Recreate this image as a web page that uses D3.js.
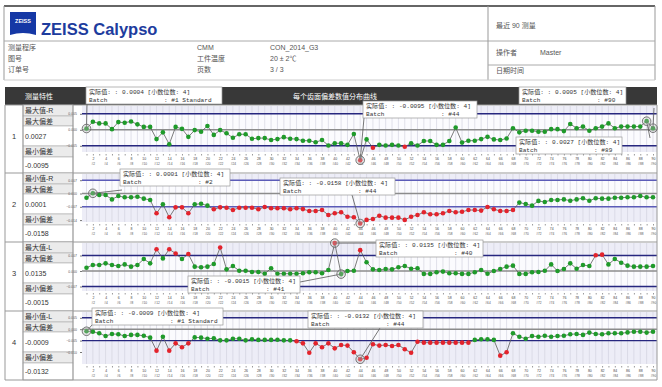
<!DOCTYPE html>
<html>
<head>
<meta charset="utf-8">
<script src="https://cdn.jsdelivr.net/npm/d3@7"></script>
<style>
  body { margin: 0; background: #fff; }
  text { font-family: "Liberation Sans", "Noto Sans CJK SC", sans-serif; }
  .mono { font-family: "Liberation Mono", "Noto Sans CJK SC", monospace; }
</style>
</head>
<body>
<div class="chart"></div>
<script>
// Chart size
const w = 662;
const h = 387;

// DATA //

// Batch index 1..90
const batches = d3.range(1, 91);

// Deviations per characteristic, in 0.001 mm
const devMaxR = [0.4, 2.5, 2.0, 2.0, 0.2, 2.4, 2.2, 2.6, 1.7, 0.9, 0.9, -2.9, -0.8, -4.5, 0.9, 0.3, -2.2, -0.1, -0.6, 1.2,
  -1.6, -0.1, -1.1, -2.5, -1.4, -1.4, -2.8, -2.6, -2.6, -3.2, -2.9, -2.3, -2.8, -2.9, -3.4, -3.4, -3.9, -3.2, -4.9, -4.2,
  -4.2, -4.7, -1.3, -9.5, -3.0, -5.6, -4.7, -4.9, -4.7, -4.9, -5.3, -4.2, -4.9, -3.5, -3.5, -4.7, -4.7, -3.5, 0.7, -4.0,
  -3.4, -3.4, -2.9, -2.2, -3.0, -3.2, -2.7, 0.5, -0.8, -0.3, -0.3, -0.6, -0.6, 0.2, 0.2, -0.4, 1.8, 0.5, 1.0, -0.3,
  0.5, 1.0, 2.0, 0.5, 1.0, 1.0, 1.0, 1.0, 2.7, 0.5];
const devMinR = [-2.2, 0.1, -0.8, -0.8, -3.1, -1.3, -2.0, -2.0, -1.7, -2.7, -3.4, -10.4, -5.7, -12.5, -7.3, -7.3, -10.4, -5.7, -5.4, -6.4,
  -8.3, -7.3, -7.5, -8.7, -7.5, -7.5, -7.5, -8.3, -7.1, -7.8, -7.8, -7.8, -8.3, -7.8, -8.2, -9.2, -9.2, -8.7, -11.3, -10.4,
  -9.9, -12.2, -12.5, -15.8, -13.9, -13.4, -11.7, -12.7, -12.7, -12.7, -13.9, -12.2, -11.3, -9.9, -10.9, -10.9, -10.4, -9.2, -9.9, -9.6,
  -8.7, -8.7, -9.0, -7.1, -8.3, -9.2, -9.2, -8.7, -4.8, -5.5, -6.4, -3.9, -4.5, -3.4, -3.4, -3.1, -3.8, -3.1, -2.5, -3.8,
  -2.5, -2.7, -2.7, -2.2, -2.2, -2.0, -2.0, -1.3, -2.0, -2.0];
const devMaxL = [1.6, 2.9, 2.9, 3.7, 2.9, 2.4, 3.2, 2.1, 2.9, 5.8, 3.7, 10.5, 6.1, 10.5, 8.5, 5.8, 8.2, 2.1, 1.8, 2.1,
  3.4, 11.4, 0.8, 2.4, 0.1, 0.1, -0.5, -0.5, -1.3, 1.3, -1.3, -1.3, -1.3, -1.3, -1.1, -0.6, -0.6, -1.1, 0.5, 13.5,
  -1.5, 0.0, 0.1, 10.1, 4.2, 0.8, 0.5, 1.0, 0.8, 1.8, 2.4, 1.1, 1.3, -1.4, -1.4, -0.6, -0.3, -1.1, -1.1, -1.4,
  -1.4, -0.6, 0.5, -1.3, 0.0, 1.0, 2.1, 2.6, -1.4, -1.4, -0.6, -0.5, 0.1, 3.2, 0.0, 1.0, 3.7, 1.1, 2.9, 2.4,
  7.6, 7.9, 3.2, 5.8, 4.0, 2.6, 2.1, 2.1, 2.1, 2.4];
const devMinL = [-0.9, -1.1, -1.8, -3.0, -2.1, -2.2, -3.0, -2.5, -2.5, -2.9, -3.7, -9.4, -3.3, -9.4, -6.2, -7.9, -6.2, -3.6, -3.7, -4.2,
  -4.0, -4.9, -4.9, -4.2, -4.2, -4.9, -4.4, -4.7, -4.7, -4.7, -4.6, -4.9, -4.9, -5.3, -6.2, -10.3, -6.2, -7.9, -6.2, -8.4,
  -6.9, -7.2, -10.1, -13.2, -12.5, -6.6, -7.2, -6.9, -7.4, -6.9, -8.8, -10.3, -5.5, -5.9, -5.9, -5.9, -5.9, -5.9, -5.9, -5.9,
  -5.9, -4.7, -4.4, -4.4, -4.7, -11.6, -10.1, -1.8, -3.3, -4.2, -3.0, -3.3, -2.9, -3.3, -3.0, -2.9, -2.2, -2.1, -2.5, -1.5,
  -2.1, -2.2, -1.8, -1.8, -1.8, -1.4, -1.1, -1.1, -1.5, -1.1];
const series = [devMaxR, devMinR, devMaxL, devMinL];

// Tolerances (0.001 mm) and y tick values
const tolerances = [5, 7, 7.5, 5];
const yTicks = [[5, 0, -5], [7, 0, -7, -14], [7.5, 0, -7.5], [5, 0, -5, -10]];

// Row labels of the left column
const rowNames = [
  ["最大值-R", "最大偏差", "0.0027", "最小偏差", "-0.0095"],
  ["最小值-R", "最大偏差", "0.0001", "最小偏差", "-0.0158"],
  ["最大值-L", "最大偏差", "0.0135", "最小偏差", "-0.0015"],
  ["最小值-L", "最大偏差", "-0.0009", "最小偏差", "-0.0132"]
];

// Value labels: batch index, shown value, batch name
const labelBatch = [[1, 44, 90, 89], [2, 44], [40, 41], [1, 44]];
const labelValue = [["0.0004", "-0.0095", "0.0005", "0.0027"], ["0.0001", "-0.0158"], ["0.0135", "-0.0015"], ["-0.0009", "-0.0132"]];
const labelName = [["#1 Standard", "#44", "#90", "#89"], ["#2", "#44"], ["#40", "#41"], ["#1 Standard", "#44"]];

// Header texts
const infoLeft = ["测量程序", "图号", "订单号"];
const infoMidKeys = ["CMM", "工件温度", "页数"];
const infoMidVals = ["CON_2014_G3", "20 ± 2℃", "3 / 3"];

// LAYOUT //
const panelTop = [105, 173, 242, 311];
const zeroY = [129.8, 193.5, 271, 329.2];
const tolPx = [16, 13.3, 15.5, 11.4];
const axisY = [154, 224, 293, 366];
const rowEdges = [0, 11, 21, 41, 52, 69];
const limitColor = ["#27277f", "#5c5cb8", "#27277f", "#27277f"];
// label boxes: [x, y, width, leader end x, leader end y]
const boxPos = [
  [[86, 87, 136, 87, 104], [363, 101, 114, 364, 118], [519, 87, 107, 654, 108], [516, 137, 106, 650, 138]],
  [[120, 169, 110, 122, 190], [280, 178, 115, 352, 195]],
  [[376, 240, 107, 376, 243], [188, 276, 112, 300, 282]],
  [[92, 308, 131, 92, 325], [308, 311, 115, 380, 328]]
];

const svg = d3.select(".chart").append("svg").attr("width", w).attr("height", h);

// HEADER //
const head = svg.append("g");
head.append("line").attr("x1", 4).attr("x2", 655).attr("y1", 6).attr("y2", 6).attr("stroke", "#333").attr("stroke-width", 1.4);
head.append("line").attr("x1", 4).attr("x2", 4).attr("y1", 6).attr("y2", 80).attr("stroke", "#999");
head.append("line").attr("x1", 655).attr("x2", 655).attr("y1", 6).attr("y2", 80).attr("stroke", "#999");
head.append("line").attr("x1", 4).attr("x2", 655).attr("y1", 41).attr("y2", 41).attr("stroke", "#aaa");
head.append("line").attr("x1", 488).attr("x2", 488).attr("y1", 6).attr("y2", 80).attr("stroke", "#999");
head.append("line").attr("x1", 488).attr("x2", 655).attr("y1", 65).attr("y2", 65).attr("stroke", "#aaa");
head.append("line").attr("x1", 4).attr("x2", 655).attr("y1", 80).attr("y2", 80).attr("stroke", "#ccc");

// Logo
head.append("path").attr("d", "M10,12 H36 V35 Q23,31 10,35 Z").attr("fill", "#1538a5");
head.append("text").text("ZEISS").attr("x", 23).attr("y", 22.5).attr("text-anchor", "middle")
  .attr("font-size", 5.5).attr("font-weight", "bold").attr("fill", "#fff").attr("font-family", "Liberation Serif, serif");
head.append("text").text("ZEISS Calypso").attr("x", 41).attr("y", 35).attr("font-size", 16.5)
  .attr("font-weight", "bold").attr("fill", "#1d3c9e");

infoLeft.forEach((t, i) => head.append("text").text(t).attr("x", 8).attr("y", 50 + i * 11).attr("font-size", 7).attr("fill", "#555"));
infoMidKeys.forEach((t, i) => head.append("text").text(t).attr("x", 197).attr("y", 50 + i * 11).attr("font-size", 7).attr("fill", "#555"));
infoMidVals.forEach((t, i) => head.append("text").text(t).attr("x", 270).attr("y", 50 + i * 11).attr("font-size", 7).attr("fill", "#555"));
head.append("text").text("最近 90 测量").attr("x", 496).attr("y", 28).attr("font-size", 7).attr("fill", "#555");
head.append("text").text("操作者").attr("x", 496).attr("y", 55).attr("font-size", 7).attr("fill", "#555");
head.append("text").text("Master").attr("x", 540).attr("y", 55).attr("font-size", 7).attr("fill", "#555");
head.append("text").text("日期时间").attr("x", 496).attr("y", 73).attr("font-size", 7).attr("fill", "#555");

// TABLE HEADER //
svg.append("rect").attr("x", 5).attr("y", 87).attr("width", 652).attr("height", 18).attr("fill", "#383838");
svg.append("text").text("测量特性").attr("x", 25).attr("y", 98.5).attr("font-size", 7).attr("fill", "#fff");
svg.append("text").text("每个齿面偏差数值分布曲线").attr("x", 335).attr("y", 98.5).attr("text-anchor", "middle")
  .attr("font-size", 7).attr("fill", "#fff");

// SCALES //
const xScale = d3.scaleLinear().domain([1, 90]).range([86.5, 653]);

const fmt = d3.format(".3f");
const labelJobs = [];

series.forEach((vals, p) => {
  const top = panelTop[p];
  const tol = tolerances[p];
  const yScale = d3.scaleLinear().domain([-tol, tol]).range([zeroY[p] + tolPx[p], zeroY[p] - tolPx[p]]);
  const g = svg.append("g");

  // Left columns
  g.append("line").attr("x1", 5).attr("x2", 657).attr("y1", top).attr("y2", top).attr("stroke", "#999");
  g.append("text").text(p + 1).attr("x", 14).attr("y", top + 34).attr("text-anchor", "middle").attr("font-size", 7.5).attr("fill", "#333");
  rowNames[p].forEach((t, r) => {
    const isName = r !== 2 && r !== 4;
    g.append("rect").attr("x", 23).attr("y", top + rowEdges[r]).attr("width", 50)
      .attr("height", rowEdges[r + 1] - rowEdges[r]).attr("fill", isName ? "#ebebeb" : "#fff").attr("stroke", "#aaa").attr("stroke-width", 0.6);
    g.append("text").text(t).attr("x", 25).attr("y", top + (rowEdges[r] + rowEdges[r + 1]) / 2 + 2.6)
      .attr("font-size", 7).attr("fill", "#333");
  });

  // Plot background
  const plotTop = top + 1;
  g.append("rect").attr("x", 82).attr("y", plotTop).attr("width", 575).attr("height", axisY[p] - 2 - plotTop).attr("fill", "#ededf7");
  g.append("rect").attr("x", 82).attr("y", yScale(tol)).attr("width", 575).attr("height", yScale(-tol) - yScale(tol)).attr("fill", "#fbfbfe");

  // Grid
  g.selectAll(".grid").data(batches).enter().append("line")
    .attr("x1", (d) => xScale(d)).attr("x2", (d) => xScale(d))
    .attr("y1", plotTop).attr("y2", axisY[p] - 2)
    .attr("stroke", "#cfcfdc").attr("stroke-width", 0.6);

  // Limit and nominal lines
  [tol, -tol].forEach((v) => g.append("line").attr("x1", 82).attr("x2", 657).attr("y1", yScale(v)).attr("y2", yScale(v))
    .attr("stroke", limitColor[p]).attr("stroke-width", 1.4));
  g.append("line").attr("x1", 82).attr("x2", 657).attr("y1", yScale(0)).attr("y2", yScale(0))
    .attr("stroke", "#8c8c8c").attr("stroke-width", 1.4);

  // Y axis
  g.append("g").attr("transform", "translate(82,0)")
    .call(d3.axisLeft(yScale).tickValues(yTicks[p]).tickSize(2).tickFormat((d) => fmt(d / 1000)))
    .call((a) => a.select(".domain").remove())
    .call((a) => a.selectAll("text").attr("font-size", 3.5).attr("fill", "#555"))
    .call((a) => a.selectAll("line").attr("stroke", "#777"));

  // X axis: batch numbers and names
  g.append("g").attr("transform", `translate(0,${axisY[p]})`)
    .call(d3.axisBottom(xScale).tickValues(batches).tickSize(1.5).tickFormat((d) => (d % 2 === 0 ? d : "")))
    .call((a) => a.select(".domain").remove())
    .call((a) => a.selectAll("text").attr("font-size", 3.5).attr("fill", "#444").attr("dy", "0.4em"))
    .call((a) => a.selectAll("line").attr("stroke", "#555").attr("stroke-width", 0.6));
  g.append("g").attr("transform", `translate(0,${axisY[p] + 6})`)
    .call(d3.axisBottom(xScale).tickValues(batches.filter((d) => d % 2 === 0)).tickSize(0).tickFormat((d) => "#" + d))
    .call((a) => a.select(".domain").remove())
    .call((a) => a.selectAll("text").attr("font-size", 3.2).attr("fill", "#555").attr("dy", "0.6em"));

  // Line and points
  const line = d3.line().x((d, i) => xScale(batches[i])).y((d) => yScale(d));
  g.append("path").datum(vals).attr("d", line).attr("fill", "none").attr("stroke", "#5a5a5a").attr("stroke-width", 0.8);
  g.selectAll(".pt").data(vals).enter().append("circle")
    .attr("cx", (d, i) => xScale(batches[i])).attr("cy", (d) => yScale(d)).attr("r", 2.3)
    .attr("fill", (d) => (Math.abs(d) > tol ? "#e3232c" : "#1f9a2a"));

  labelBatch[p].forEach((b, k) => labelJobs.push({ p, k, cx: xScale(b), cy: yScale(vals[b - 1]) }));
});

// Table frame
svg.append("line").attr("x1", 5).attr("x2", 657).attr("y1", 380).attr("y2", 380).attr("stroke", "#999");
[5, 23, 73, 657].forEach((x) => svg.append("line").attr("x1", x).attr("x2", x).attr("y1", 105).attr("y2", 380).attr("stroke", "#999"));

// VALUE LABELS (on top of everything) //
const boxes = svg.append("g");
labelJobs.forEach(({ p, k, cx, cy }) => {
  const [bx, by, bw, lx, ly] = boxPos[p][k];
  boxes.append("line").attr("x1", cx).attr("y1", cy).attr("x2", lx).attr("y2", ly).attr("stroke", "#555").attr("stroke-width", 0.8);
  boxes.append("circle").attr("cx", cx).attr("cy", cy).attr("r", 4.3)
    .attr("fill", "rgba(190,190,190,0.35)").attr("stroke", "#6a6a6a").attr("stroke-width", 0.9);
  boxes.append("rect").attr("x", bx).attr("y", by).attr("width", bw).attr("height", 17)
    .attr("fill", "#fff").attr("stroke", "#999").attr("stroke-width", 0.7);
  boxes.append("text").attr("class", "mono").text(`实际值: : ${labelValue[p][k]} [小数位数: 4]`)
    .attr("x", bx + 3).attr("y", by + 7).attr("font-size", 6.1).attr("fill", "#333");
  boxes.append("text").attr("class", "mono").text("Batch").attr("x", bx + 3).attr("y", by + 14.5).attr("font-size", 6.1).attr("fill", "#333");
  boxes.append("text").attr("class", "mono").text(": " + labelName[p][k]).attr("x", bx + 78).attr("y", by + 14.5).attr("font-size", 6.1).attr("fill", "#333");
});
</script>
</body>
</html>
